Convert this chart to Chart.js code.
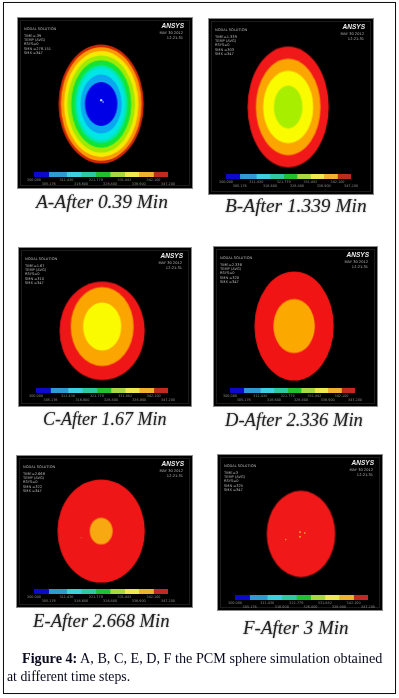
<!DOCTYPE html>
<html><head><meta charset="utf-8">
<script src="https://cdn.jsdelivr.net/npm/chart.js@4"></script>
<style>
html,body{margin:0;padding:0;background:#fff;width:399px;height:698px;overflow:hidden}
#frame{position:absolute;left:3px;top:2px;width:391px;height:690px;border:1px solid #111;box-shadow:0 0 .5px #111}
.panel{position:absolute;background:#000;box-shadow:0 0 0 1px #8a8a8a;filter:blur(.75px)}
.panel canvas{position:absolute}
.panel .inner{position:absolute;left:2px;right:2px;top:2px;bottom:2px;border:1px solid #1c1c1c}
.t{position:absolute;font:3.6px "DejaVu Sans",sans-serif;color:#b8b8b8;white-space:nowrap;line-height:4px}
.logo{position:absolute;font:italic bold 6.5px "Liberation Sans",sans-serif;color:#eee;line-height:7px}
.cap{position:absolute;font-family:"Liberation Serif",serif;font-style:italic;color:#222;white-space:nowrap;filter:blur(.45px);text-shadow:0 0 2px #999}
.fig{position:absolute;left:22px;font:14.2px "Liberation Serif",serif;color:#0a0a20;white-space:nowrap;filter:blur(.25px)}
</style></head><body>
<div id="frame"></div>
<script>
// ---------- data ----------
const panelNames = ['A','B','C','D','E','F'];
const captions = ['A-After 0.39 Min','B-After 1.339 Min','C-After 1.67 Min','D-After 2.336 Min','E-After 2.668 Min','F-After 3 Min'];
const timeLabels = ['TIME=.39','TIME=1.339','TIME=1.67','TIME=2.336','TIME=2.668','TIME=3'];
const minLabels = ['SMN =278.151','SMN =303','SMN =310','SMN =320','SMN =322','SMN =325'];
const infoLines = ['NODAL SOLUTION','','TEMP     (AVG)','RSYS=0','','SMX =347'];
const legendLevels = [300,305.176,311.43,316.6,321.779,326.8,331.882,336.9,342.1,347.2];
const legendColors = ['#0a0ac8','#2f9ad0','#3fd0e0','#30c8a0','#20c030','#a8d840','#f0e850','#f0b030','#c02a20'];
// band semi-axes (outermost first) for each contour plot, horizontal then vertical
const semiXA = [44.7,42.3,39,35.5,31.5,27.5,25,21.5,17];
const semiYA = [62.5,59.5,55.5,51,46,41,38,31,23];
const colorsA = ['#cc2806','#ff9a00','#f4ea00','#a0ea00','#12e436','#00e8a8','#00e6e6','#0aa8f0','#0000e6'];
const semiXB = [42.7,34,26.3,15];
const semiYB = [63.3,50.5,38,22.5];
const colorsB = ['#f01818','#fba500','#fbfb00','#a8ee00'];
const semiXC = [44.7,33,20];
const semiYC = [52,41.7,25.3];
const liftC = [0,4.5,4.5];
const colorsC = ['#ee1616','#fba500','#fbfb00'];
const semiXD = [41.7,21.8];
const semiYD = [57.5,28.5];
const colorsD = ['#f01414','#fba800'];
const semiXE = [45.8,12];
const semiYE = [54.5,14];
const colorsE = ['#ee1616','#f8a810'];
const semiXF = [36];
const semiYF = [45.5];
const colorsF = ['#f01818'];
// small stray marks inside the plots
const spotsA = [{x:0,y:4,r:1.2,c:'#a8d8ff'},{x:2,y:2,r:.8,c:'#a8d8ff'}];
const spotsB = [];const spotsC = [];const spotsD = [];
const spotsE = [{x:-21,y:-7,r:.5,c:'#f09070'}];
const spotsF = [{x:-1,y:2,r:.9,c:'#f8c040'},{x:4,y:1,r:.8,c:'#f8c040'},{x:-1,y:-3,r:1,c:'#f8a030'},{x:-16,y:-6,r:.8,c:'#f89030'}];

const semiX=[semiXA,semiXB,semiXC,semiXD,semiXE,semiXF], semiY=[semiYA,semiYB,semiYC,semiYD,semiYE,semiYF];
const lifts=[[],[],liftC,[],[],[]];
const colors=[colorsA,colorsB,colorsC,colorsD,colorsE,colorsF], spots=[spotsA,spotsB,spotsC,spotsD,spotsE,spotsF];

// ---------- layout ----------
const layout=[
 {l:18,t:18,w:174,h:170,cx:83,cy:86,bl:34,br:168,bt:172},
 {l:209,t:19,w:164,h:175,cx:79,cy:88,bl:226,br:351,bt:174},
 {l:19,t:248,w:172,h:158,cx:83,cy:83,bl:36,br:168,bt:388},
 {l:214,t:247,w:163,h:159,cx:80,cy:79,bl:230,br:355,bt:388},
 {l:17,t:456,w:175,h:151,cx:84,cy:75,bl:34,br:168,bt:589},
 {l:218,t:455,w:164,h:155,cx:83,cy:79,bl:235,br:368,bt:595}];
const capPos=[[36,191,19.4],[225,195,19.4],[43,409,18],[225,409,18.6],[33,610,18.7],[243,617,19]];

function ellipseStyle(ctx){
  const d=ctx.raw; if(!d||d.rx===undefined) return 'circle';
  const s=ctx.chart.scales;
  const rx=Math.abs(s.x.getPixelForValue(d.rx)-s.x.getPixelForValue(0));
  const ry=Math.abs(s.y.getPixelForValue(d.ry)-s.y.getPixelForValue(0));
  const c=document.createElement('canvas');
  c.width=Math.ceil(rx*2)+2;c.height=Math.ceil(ry*2)+2;
  const g=c.getContext('2d');
  g.fillStyle=ctx.dataset.fillColor;
  g.beginPath();g.ellipse(c.width/2,c.height/2,rx,ry,0,0,Math.PI*2);g.fill();
  return c;
}

panelNames.forEach((name,i)=>{
  const L=layout[i];
  const p=document.createElement('div');p.className='panel';
  p.style.cssText=`left:${L.l}px;top:${L.t}px;width:${L.w}px;height:${L.h}px`;
  document.body.appendChild(p);
  const inner=document.createElement('div');inner.className='inner';p.appendChild(inner);

  // contour plot: Chart.js paints the first dataset last, so stray marks and inner bands come first
  const c=document.createElement('canvas');
  c.style.cssText=`left:0;top:0;width:${L.w}px;height:${L.h}px`;
  c.width=L.w;c.height=L.h;p.appendChild(c);
  const bands=semiX[i].map((rx,k)=>({
    type:'bubble',label:name+' band '+(k+1),fillColor:colors[i][k],
    backgroundColor:colors[i][k],borderWidth:0,
    data:[{x:0,y:lifts[i][k]||0,r:1,rx:rx,ry:semiY[i][k]}],
    pointStyle:ellipseStyle
  })).reverse();
  const sp=spots[i].length?[{type:'bubble',label:name+' marks',
     data:spots[i].map(s=>({x:s.x,y:s.y,r:s.r})),
     backgroundColor:spots[i].map(s=>s.c),borderWidth:0}]:[];
  new Chart(c,{type:'bubble',data:{datasets:[...sp,...bands]},
    options:{responsive:false,animation:false,
      layout:{padding:0},
      plugins:{legend:{display:false},tooltip:{enabled:false}},
      scales:{x:{type:'linear',display:false,min:-L.cx,max:L.w-L.cx},
              y:{type:'linear',display:false,min:-(L.h-L.cy),max:L.cy}}}});

  // colour legend
  const pad=8,bw=L.br-L.bl,bh=5,axisH=10;
  const c2=document.createElement('canvas');
  c2.style.cssText=`left:${L.bl-L.l-pad}px;top:${L.bt-L.t}px;width:${bw+2*pad}px;height:${bh+axisH}px`;
  c2.width=bw+2*pad;c2.height=bh+axisH;p.appendChild(c2);
  new Chart(c2,{type:'bar',
    data:{labels:['temp'],datasets:legendColors.map((col,k)=>({
      label:'level '+k,data:[legendLevels[k+1]-legendLevels[k]],backgroundColor:col,borderWidth:0,
      categoryPercentage:1,barPercentage:1,stack:'s'}))},
    options:{indexAxis:'y',responsive:false,animation:false,
      layout:{padding:{left:pad,right:pad,top:0,bottom:0}},
      plugins:{legend:{display:false},tooltip:{enabled:false}},
      scales:{
        y:{display:false,stacked:true},
        x:{stacked:true,position:'bottom',min:0,max:legendLevels[legendLevels.length-1]-legendLevels[0],
           grid:{display:false,drawTicks:false},border:{display:false},
           afterFit:s=>{s.height=axisH},
           afterBuildTicks:s=>{s.ticks=legendLevels.map(v=>({value:v-legendLevels[0]}))},
           ticks:{autoSkip:false,maxRotation:0,minRotation:0,padding:1,color:'#8c8c8c',
             font:{size:3.4,family:'DejaVu Sans',lineHeight:1.2},
             callback:(v,idx)=>{const t=legendLevels[idx].toFixed(3);return idx%2?['',t]:[t,'']}}}}}});

  // ANSYS annotation text
  const lines=[infoLines[0],timeLabels[i],infoLines[2],infoLines[3],minLabels[i],infoLines[5]];
  [9,16,20,24,29,33].forEach((y,k)=>{
    const t=document.createElement('div');t.className='t';t.textContent=lines[k];
    t.style.left='6px';t.style.top=y+'px';p.appendChild(t);
  });
  const logo=document.createElement('div');logo.className='logo';logo.textContent='ANSYS';
  logo.style.right='8px';logo.style.top='4px';p.appendChild(logo);
  ['MAY 30 2012','12:21:31'].forEach((s,k)=>{
    const t=document.createElement('div');t.className='t';t.textContent=s;
    t.style.right='9px';t.style.top=(13+k*5)+'px';p.appendChild(t);
  });

  // caption
  const cp=document.createElement('div');cp.className='cap';cp.textContent=captions[i];
  cp.style.left=capPos[i][0]+'px';cp.style.top=capPos[i][1]+'px';cp.style.fontSize=capPos[i][2]+'px';document.body.appendChild(cp);
});

const f1=document.createElement('div');f1.className='fig';f1.style.top='650px';
f1.innerHTML='<b>Figure 4:</b> A, B, C, E, D, F the PCM sphere simulation obtained';
document.body.appendChild(f1);
const f2=document.createElement('div');f2.className='fig';f2.style.left='7px';f2.style.top='669px';f2.style.fontSize='13.8px';
f2.textContent='at different time steps.';document.body.appendChild(f2);
</script>
</body></html>
